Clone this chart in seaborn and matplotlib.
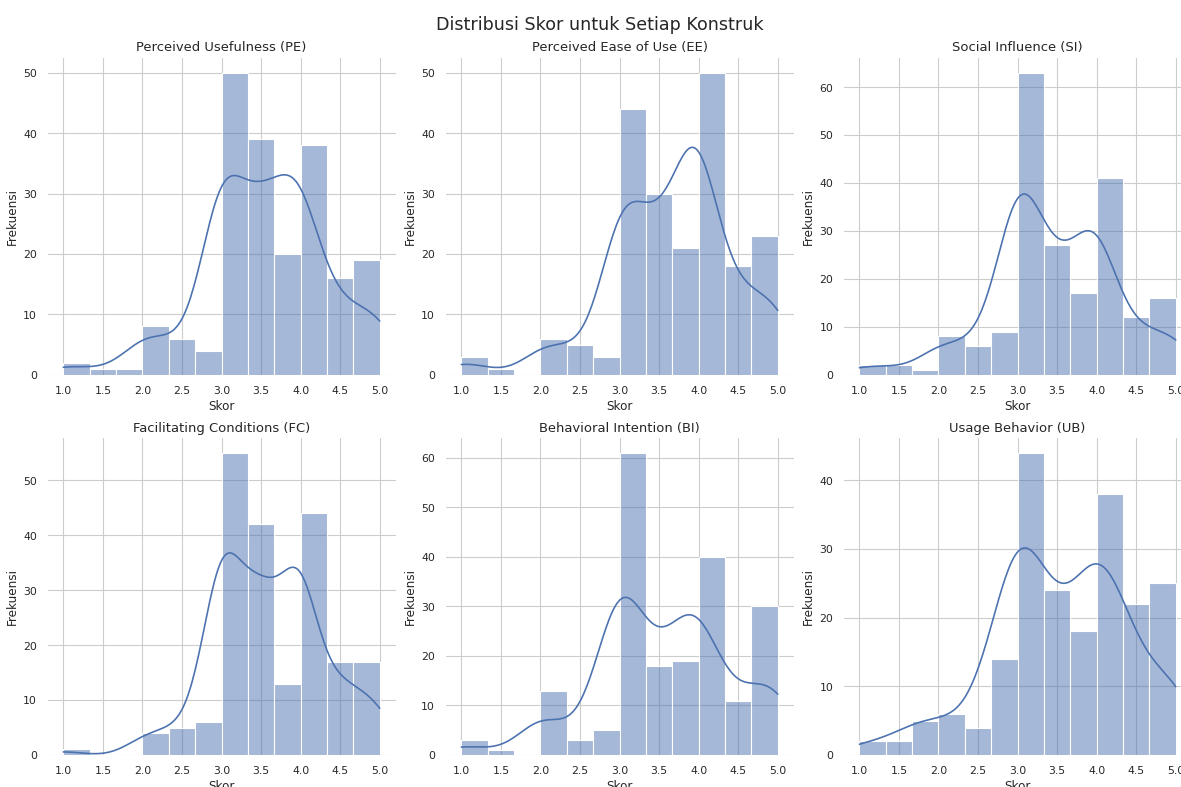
import numpy as np
import pandas as pd
import seaborn as sns
import matplotlib
matplotlib.use("Agg")
import matplotlib.pyplot as plt

# --- each construct score is the mean of 6 Likert items: item sum 6..30, divided by 6 ---
ITEM_SUM = list(range(6, 31))
N_ITEMS = 6

# respondents per item sum, estimated from the bars and the KDE line
#          1.0   1.33  1.67  2.0   2.33  2.67  3.0     3.33    3.67   4.0    4.33   4.67..5.0
PE_FREQ = [2, 0, 1, 0, 1, 0, 8, 0, 6, 0, 4, 0, 50, 0, 12, 27, 8, 12, 38, 0, 8, 8, 4, 4, 11]
EE_FREQ = [3, 0, 1, 0, 0, 0, 6, 0, 5, 0, 3, 0, 36, 8, 10, 20, 6, 15, 50, 0, 8, 10, 5, 5, 13]
SI_FREQ = [2, 0, 2, 0, 1, 0, 8, 0, 6, 0, 9, 0, 53, 10, 12, 15, 10, 7, 41, 0, 6, 6, 4, 3, 9]
FC_FREQ = [1, 0, 0, 0, 0, 0, 4, 0, 5, 0, 6, 0, 50, 5, 10, 32, 4, 9, 44, 0, 5, 12, 3, 6, 8]
BI_FREQ = [3, 0, 1, 0, 0, 0, 13, 0, 3, 0, 5, 0, 55, 6, 5, 13, 12, 7, 40, 0, 6, 5, 7, 7, 16]
UB_FREQ = [2, 0, 2, 0, 5, 0, 6, 0, 4, 0, 14, 0, 44, 0, 24, 0, 18, 0, 38, 0, 22, 0, 10, 0, 15]

CONSTRUCTS = ["PE", "EE", "SI", "FC", "BI", "UB"]
TITLES = [
    "Perceived Usefulness (PE)",
    "Perceived Ease of Use (EE)",
    "Social Influence (SI)",
    "Facilitating Conditions (FC)",
    "Behavioral Intention (BI)",
    "Usage Behavior (UB)",
]
FREQS = [PE_FREQ, EE_FREQ, SI_FREQ, FC_FREQ, BI_FREQ, UB_FREQ]

levels = np.array(ITEM_SUM) / N_ITEMS
bin_edges = levels[::2]  # 1, 1.33, ..., 5 -> 12 bins

# one row per respondent
df = pd.DataFrame({c: np.repeat(levels, f) for c, f in zip(CONSTRUCTS, FREQS)})

sns.set_theme(style="whitegrid")
plt.rcParams.update({
    "axes.titlesize": 12,
    "axes.labelsize": 11,
    "xtick.labelsize": 10,
    "ytick.labelsize": 10,
})
fig, axes = plt.subplots(2, 3, figsize=(15, 10))

# the reference is a slightly cropped screenshot, so the right column runs past the edge
fig.subplots_adjust(left=47.5 / 1181, right=1191.5 / 1181,
                    bottom=1 - 755 / 787, top=1 - 58 / 787,
                    wspace=50 / 348, hspace=63 / 317)

for ax, col, title in zip(axes.flat, CONSTRUCTS, TITLES):
    sns.histplot(df[col], bins=bin_edges, kde=True, ax=ax)
    ax.set_title(title)
    ax.set_xlabel("Skor")
    ax.set_ylabel("Frekuensi")
    sns.despine(ax=ax, left=True, bottom=True)

fig.suptitle("Distribusi Skor untuk Setiap Konstruk", fontsize=16, x=0.508, y=0.98)

plt.savefig("out.png", dpi=78.74)
plt.close()
